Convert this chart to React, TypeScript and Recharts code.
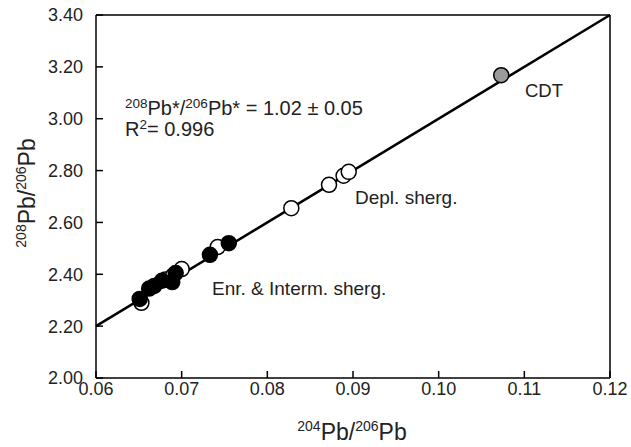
import React from 'react';
import { ScatterChart, Scatter, XAxis, YAxis, ReferenceLine } from 'recharts';

// 204Pb/206Pb vs 208Pb/206Pb for shergottites
const xTicks = [0.06, 0.07, 0.08, 0.09, 0.1, 0.11, 0.12];
const yTicks = [2.0, 2.2, 2.4, 2.6, 2.8, 3.0, 3.2, 3.4];

// enriched shergottites (black)
const enrX = [0.0651, 0.0662, 0.0668, 0.0677, 0.0689, 0.0693, 0.0733, 0.0755];
const enrY = [2.305, 2.345, 2.355, 2.375, 2.37, 2.405, 2.475, 2.52];

// intermediate shergottites (open, mostly hidden under the black ones)
const intX = [0.0653, 0.0681, 0.069, 0.07, 0.0742];
const intY = [2.29, 2.38, 2.395, 2.42, 2.505];

// depleted shergottites (open)
const deplX = [0.0828, 0.0872, 0.0889, 0.0895];
const deplY = [2.655, 2.745, 2.78, 2.795];

// Canyon Diablo troilite
const cdtX = [0.1073];
const cdtY = [3.168];

// regression line end points
const fitX = [0.06, 0.12];
const fitY = [2.2, 3.4];

const zip = (xs: number[], ys: number[]) => xs.map((x, i) => ({ x, y: ys[i] }));

const enriched = zip(enrX, enrY);
const intermediate = zip(intX, intY);
const depleted = zip(deplX, deplY);
const cdt = zip(cdtX, cdtY);
const fitLine = zip(fitX, fitY);

const FONT = '"Liberation Sans", Arial, Helvetica, sans-serif';
const INK = '#222';
const TICK_LEN = 7;
const X_GAP = 4;
const Y_GAP = 13;

const dot = (fill: string, stroke: string) => (props: any) => (
    <circle cx={props.cx} cy={props.cy} r={7.5} fill={fill} stroke={stroke} strokeWidth={1.5} />
);

// ticks point into the plot, so draw them with the label
const XTick = (props: any) => {
    const { x, y, payload } = props;
    const axisY = y - X_GAP;
    return (
        <g>
            <line x1={x} x2={x} y1={axisY} y2={axisY - TICK_LEN} stroke="#000" strokeWidth={1.5} />
            <text x={x} y={y} dy="0.71em" textAnchor="middle" fontSize={18} fontFamily={FONT} fill={INK}>
                {Number(payload.value).toFixed(2)}
            </text>
        </g>
    );
};

const YTick = (props: any) => {
    const { x, y, payload } = props;
    const axisX = x + Y_GAP;
    return (
        <g>
            <line x1={axisX} x2={axisX + TICK_LEN} y1={y} y2={y} stroke="#000" strokeWidth={1.5} />
            <text x={x} y={y} dy="0.355em" textAnchor="end" fontSize={18} fontFamily={FONT} fill={INK}>
                {Number(payload.value).toFixed(2)}
            </text>
        </g>
    );
};

export default function App() {
    return (
        <div style={{ position: 'absolute', left: 0, top: 0, width: 631, height: 447, background: '#fff' }}>
            <ScatterChart width={631} height={447} margin={{ top: 15, right: 21, left: 0, bottom: 0 }}>
                <XAxis
                    type="number"
                    dataKey="x"
                    domain={[0.06, 0.12]}
                    ticks={xTicks}
                    height={69}
                    tickSize={0}
                    tickLine={false}
                    tickMargin={X_GAP}
                    tick={<XTick />}
                    stroke="#000"
                    strokeWidth={1.5}
                    allowDataOverflow
                />
                <YAxis
                    type="number"
                    dataKey="y"
                    domain={[2.0, 3.4]}
                    ticks={yTicks}
                    width={96}
                    tickSize={0}
                    tickLine={false}
                    tickMargin={Y_GAP}
                    tick={<YTick />}
                    stroke="#000"
                    strokeWidth={1.5}
                    allowDataOverflow
                />
                {/* box frame */}
                <ReferenceLine y={3.4} stroke="#000" strokeWidth={1.5} />
                <ReferenceLine x={0.12} stroke="#000" strokeWidth={1.5} />
                {/* fit line */}
                <ReferenceLine segment={fitLine} stroke="#000" strokeWidth={2.5} />

                <Scatter data={intermediate} shape={dot('#fff', '#000')} isAnimationActive={false} />
                <Scatter data={enriched} shape={dot('#000', '#000')} isAnimationActive={false} />
                <Scatter data={depleted} shape={dot('#fff', '#000')} isAnimationActive={false} />
                <Scatter data={cdt} shape={dot('#9a9a9a', '#000')} isAnimationActive={false} />

                {/* annotations */}
                <text x={125} y={115} fontSize={20} fontFamily={FONT} fill={INK}>
                    <tspan fontSize={13.5} dy={-7}>208</tspan>
                    <tspan dy={7}>Pb*/</tspan>
                    <tspan fontSize={13.5} dy={-7}>206</tspan>
                    <tspan dy={7}>Pb* = 1.02 ± 0.05</tspan>
                </text>
                <text x={125} y={136} fontSize={20} fontFamily={FONT} fill={INK}>
                    <tspan>R</tspan>
                    <tspan fontSize={13.5} dy={-7}>2</tspan>
                    <tspan dy={7}>= 0.996</tspan>
                </text>
                <text x={525} y={97} fontSize={18.5} fontFamily={FONT} fill={INK}>CDT</text>
                <text x={355} y={204} fontSize={19} fontFamily={FONT} fill={INK}>Depl. sherg.</text>
                <text x={212} y={295} fontSize={19} fontFamily={FONT} fill={INK}>Enr. &amp; Interm. sherg.</text>

                {/* axis titles */}
                <text x={352} y={440} textAnchor="middle" fontSize={23} fontFamily={FONT} fill={INK}>
                    <tspan fontSize={14} dy={-9}>204</tspan>
                    <tspan dy={9}>Pb/</tspan>
                    <tspan fontSize={14} dy={-9}>206</tspan>
                    <tspan dy={9}>Pb</tspan>
                </text>
                <text x={35} y={193} textAnchor="middle" fontSize={23} fontFamily={FONT} fill={INK} transform="rotate(-90 35 193)">
                    <tspan fontSize={14} dy={-9}>208</tspan>
                    <tspan dy={9}>Pb/</tspan>
                    <tspan fontSize={14} dy={-9}>206</tspan>
                    <tspan dy={9}>Pb</tspan>
                </text>
            </ScatterChart>
        </div>
    );
}
